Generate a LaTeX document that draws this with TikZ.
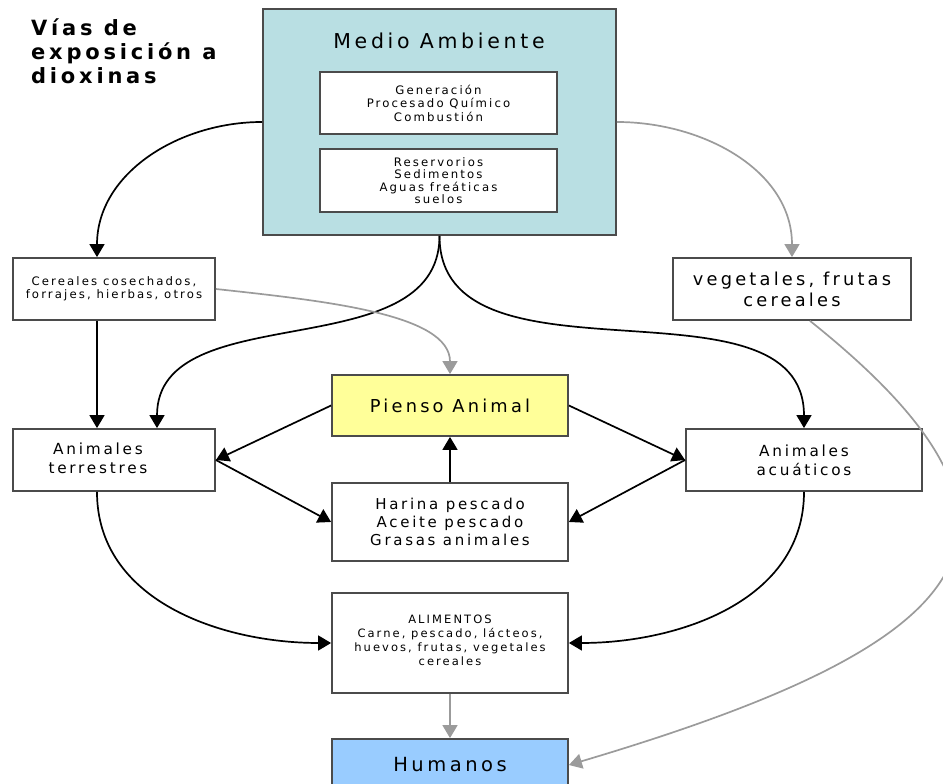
\documentclass[tikz,border=0pt]{standalone}
\usepackage{fontspec}
\setmainfont{DejaVu Sans}[LetterSpace=18]
\usepackage{xcolor}
\usetikzlibrary{arrows.meta}

\definecolor{medioamb}{RGB}{185,223,227}
\definecolor{piensofill}{RGB}{255,255,153}
\definecolor{humanofill}{RGB}{153,204,255}
\definecolor{borde}{RGB}{75,75,75}
\definecolor{gris}{RGB}{155,155,155}

\begin{document}
\begin{tikzpicture}[x=1pt, y=1pt,
    box/.style={rectangle, draw=borde, line width=1.8pt, fill=white, align=center, inner sep=0pt},
    arrow/.style={-{Triangle[length=13pt,width=15pt]}, line width=1.7pt},
    greyarrow/.style={arrow, draw=gris}
]
    \useasboundingbox (0,0) rectangle (943,784);

    \node[anchor=north west, align=left, inner sep=0pt, font=\bfseries\fontsize{21}{24}\selectfont] (titulo) at (31,765) {Vías de\\exposición a\\dioxinas};

    \node[box, fill=medioamb, minimum width=353pt, minimum height=226pt] (medio) at (439.5,662) {};
    \node[font=\fontsize{20.5}{24}\selectfont] (mediotitulo) at (439,743) {Medio Ambiente};
    \node[box, minimum width=237pt, minimum height=62pt, font=\fontsize{11.7}{13.5}\selectfont] (fuentes) at (438.5,681) {Generación\\Procesado Químico\\Combustión};
    \node[box, minimum width=237pt, minimum height=63pt, font=\fontsize{11.7}{12.5}\selectfont] (reservorios) at (438.5,603.5) {Reservorios\\Sedimentos\\Aguas freáticas\\suelos};

    \node[box, minimum width=202pt, minimum height=62pt, font=\fontsize{11.7}{13.5}\selectfont] (cereales) at (114,495) {Cereales cosechados,\\forrajes, hierbas, otros};
    \node[box, minimum width=238pt, minimum height=62pt, font=\fontsize{17.8}{21}\selectfont] (vegetales) at (792,495) {vegetales, frutas\\cereales};
    \node[box, fill=piensofill, minimum width=236pt, minimum height=61pt, font=\fontsize{17.8}{21}\selectfont] (pienso) at (450,378.5) {Pienso Animal};
    \node[box, minimum width=202pt, minimum height=62pt, font=\fontsize{15.3}{19}\selectfont] (terrestres) at (114,324) {\begin{tabular}{@{}c@{}}Animales\\terrestres\end{tabular}\hspace{32pt}};
    \node[box, minimum width=236pt, minimum height=62pt, font=\fontsize{15.3}{19}\selectfont] (acuaticos) at (804,324) {Animales\\acuáticos};
    \node[box, minimum width=236pt, minimum height=78pt, font=\fontsize{15}{18}\selectfont] (harina) at (450,262) {Harina pescado\\Aceite pescado\\Grasas animales};
    \node[box, minimum width=236pt, minimum height=100pt, text depth=5pt, font=\fontsize{11.5}{14}\selectfont] (alimentos) at (450,141) {ALIMENTOS\\Carne, pescado, lácteos,\\huevos, frutas, vegetales\\cereales};
    \node[box, fill=humanofill, minimum width=236pt, minimum height=52pt, font=\fontsize{19.5}{23}\selectfont] (humanos) at (450,19) {Humanos};

    \draw[arrow] (medio.west) to[out=180,in=90] ([xshift=-17pt]cereales.north);
    \draw[greyarrow] (medio.east) to[out=0,in=90] (vegetales.north);
    \draw[arrow] (medio.south) to[out=270,in=90] ([xshift=43pt]terrestres.north);
    \draw[arrow] (medio.south) to[out=270,in=90] (acuaticos.north);
    \draw[arrow] ([xshift=-17pt]cereales.south) -- ([xshift=-17pt]terrestres.north);
    \draw[greyarrow] (cereales.east) .. controls +(110,-12) and +(0,60) .. (pienso.north);
    \draw[arrow] (pienso.west) -- (terrestres.east);
    \draw[arrow] (terrestres.east) -- (harina.west);
    \draw[arrow] (harina.north) -- (pienso.south);
    \draw[arrow] (pienso.east) -- (acuaticos.west);
    \draw[arrow] (acuaticos.west) -- (harina.east);
    \draw[arrow] ([xshift=-17pt]terrestres.south) to[out=270,in=180] (alimentos.west);
    \draw[arrow] (acuaticos.south) to[out=270,in=0] (alimentos.east);
    \draw[greyarrow] (alimentos.south) -- (humanos.north);
    \draw[greyarrow] ([xshift=18pt]vegetales.south) .. controls +(268,-214) and +(404,120) .. (humanos.east);
\end{tikzpicture}
\end{document}
